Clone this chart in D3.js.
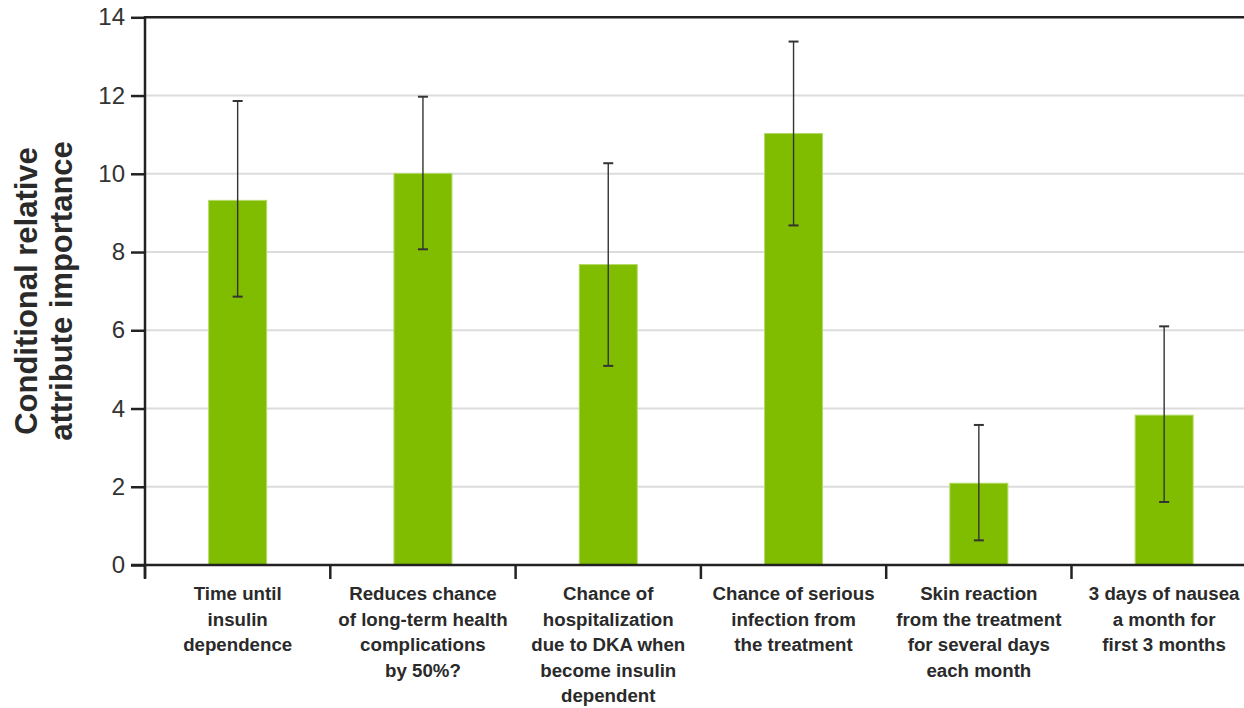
<!DOCTYPE html>
<html>
<head>
<meta charset="utf-8">
<script src="https://cdn.jsdelivr.net/npm/d3@7/dist/d3.min.js"></script>
<style>
  html, body { margin: 0; padding: 0; background: #fff; }
  svg { display: block; }
</style>
</head>
<body>
<svg id="chart" width="1244" height="708"></svg>
<script>
// Attribute labels, one array of lines per category
const categories = [
  ["Time until", "insulin", "dependence"],
  ["Reduces chance", "of long-term health", "complications", "by 50%?"],
  ["Chance of", "hospitalization", "due to DKA when", "become insulin", "dependent"],
  ["Chance of serious", "infection from", "the treatment"],
  ["Skin reaction", "from the treatment", "for several days", "each month"],
  ["3 days of nausea", "a month for", "first 3 months"]
];
// Conditional relative attribute importance (mean) and error bar bounds
const importance = [9.32, 10.01, 7.68, 11.03, 2.09, 3.83];
const upperBound = [11.86, 11.97, 10.27, 13.38, 3.58, 6.10];
const lowerBound = [6.86, 8.07, 5.09, 8.68, 0.63, 1.61];
const yTicks = [0, 2, 4, 6, 8, 10, 12, 14];

const svg = d3.select("#chart");
const plotLeft = 145, plotBottom = 565, plotTop = 17.3;
const bandW = 185.3;

const x = d3.scaleBand()
  .domain(d3.range(categories.length))
  .range([plotLeft, plotLeft + bandW * categories.length])
  .padding(0);
const y = d3.scaleLinear().domain([0, 14]).range([plotBottom, plotTop]);
const barW = x.bandwidth() * 0.313;

// Horizontal gridlines
svg.append("g").selectAll("line")
  .data(yTicks.filter(t => t > 0 && t < 14))
  .join("line")
  .attr("x1", plotLeft).attr("x2", 1244)
  .attr("y1", d => y(d)).attr("y2", d => y(d))
  .attr("stroke", "#dcdcdc").attr("stroke-width", 2);

// Top border at the axis maximum
svg.append("line")
  .attr("x1", plotLeft).attr("x2", 1244)
  .attr("y1", y(14)).attr("y2", y(14))
  .attr("stroke", "#222").attr("stroke-width", 2.5);

// Bars
svg.append("g").selectAll("rect")
  .data(importance)
  .join("rect")
  .attr("x", (d, i) => x(i) + (x.bandwidth() - barW) / 2)
  .attr("y", d => y(d))
  .attr("width", barW)
  .attr("height", d => y(0) - y(d))
  .attr("fill", "#80bc00")
  .attr("stroke", "#b2da66").attr("stroke-width", 1);

// Error bars
const eb = svg.append("g").attr("stroke", "#333").attr("stroke-width", 1.4);
importance.forEach((v, i) => {
  const cx = x(i) + x.bandwidth() / 2;
  eb.append("line").attr("x1", cx).attr("x2", cx)
    .attr("y1", y(upperBound[i])).attr("y2", y(lowerBound[i]));
  [upperBound[i], lowerBound[i]].forEach(b => {
    eb.append("line").attr("x1", cx - 5).attr("x2", cx + 5)
      .attr("y1", y(b)).attr("y2", y(b)).attr("stroke-width", 2);
  });
});

// Y axis
const yAxis = svg.append("g")
  .attr("transform", `translate(${plotLeft},0)`)
  .call(d3.axisLeft(y).tickValues(yTicks).tickSize(14).tickPadding(6).tickSizeOuter(0));
yAxis.select(".domain").remove();
yAxis.selectAll(".tick line").attr("stroke", "#222").attr("stroke-width", 2.5);
yAxis.selectAll(".tick text")
  .attr("fill", "#333")
  .style("font-family", "'Liberation Sans', Arial, sans-serif")
  .style("font-size", "24px");
svg.append("line")
  .attr("x1", plotLeft).attr("x2", plotLeft)
  .attr("y1", plotTop - 1.2).attr("y2", plotBottom + 13)
  .attr("stroke", "#222").attr("stroke-width", 2.5);

// X axis baseline and category separators
svg.append("line")
  .attr("x1", plotLeft - 14).attr("x2", 1244)
  .attr("y1", y(0)).attr("y2", y(0))
  .attr("stroke", "#222").attr("stroke-width", 2.5);
svg.append("g").selectAll("line")
  .data(d3.range(categories.length))
  .join("line")
  .attr("x1", d => x(d)).attr("x2", d => x(d))
  .attr("y1", y(0)).attr("y2", y(0) + 14)
  .attr("stroke", "#222").attr("stroke-width", 2.5);

// Category labels
const lab = svg.append("g")
  .style("font-family", "'Liberation Sans', Arial, sans-serif")
  .style("font-weight", "bold")
  .style("font-size", "18.7px")
  .attr("fill", "#2a2a2a")
  .attr("text-anchor", "middle");
categories.forEach((lines, i) => {
  const t = lab.append("text")
    .attr("x", x(i) + x.bandwidth() / 2)
    .attr("y", 600);
  lines.forEach((ln, j) => {
    t.append("tspan")
      .attr("x", x(i) + x.bandwidth() / 2)
      .attr("dy", j === 0 ? 0 : 25.6)
      .text(ln);
  });
});

// Y axis title
const title = svg.append("text")
  .attr("transform", "translate(37,291) rotate(-90)")
  .attr("text-anchor", "middle")
  .attr("fill", "#2a2a2a")
  .style("font-family", "'Liberation Sans', Arial, sans-serif")
  .style("font-weight", "bold")
  .style("font-size", "31px");
title.append("tspan").attr("x", 0).attr("dy", 0).text("Conditional relative");
title.append("tspan").attr("x", 0).attr("dy", 35).text("attribute importance");
</script>
</body>
</html>
